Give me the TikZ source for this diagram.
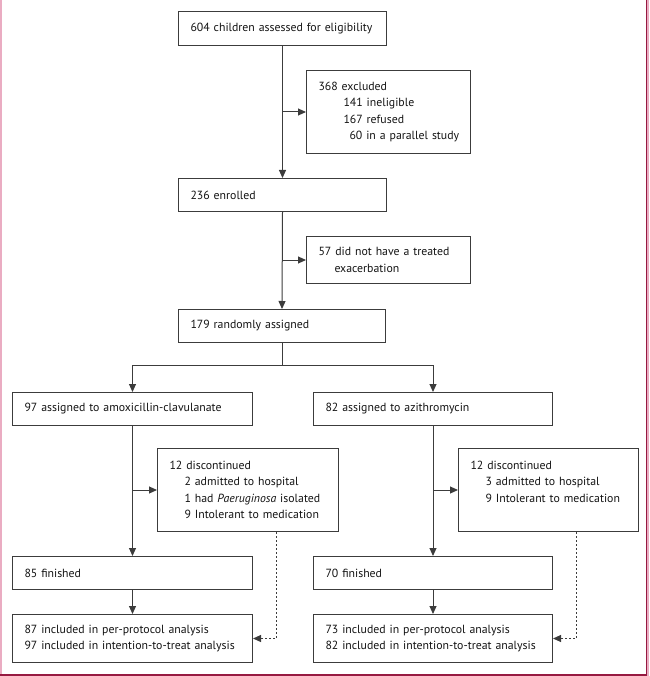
\documentclass[tikz,border=0pt]{standalone}
\usepackage{fontspec}
\setmainfont{PT Sans}
\usetikzlibrary{arrows.meta}
\definecolor{pinkc}{RGB}{234,172,194}
\definecolor{crim}{RGB}{150,25,65}
\definecolor{linec}{RGB}{60,60,60}
\definecolor{txtc}{RGB}{20,20,20}
\begin{document}
\begin{tikzpicture}[x=1pt,y=-1pt,
  box/.style 2 args={draw=linec, line width=1pt, fill=white, anchor=north west,
    minimum width=#1pt, minimum height=#2pt, text width=#1pt-24pt,
    inner xsep=12pt, inner ysep=0pt, align=left, text=txtc,
    font=\fontsize{11.8}{16.5}\selectfont},
  arr/.style={draw=linec, line width=1pt, -{Triangle[length=8pt,width=7pt]}},
  ln/.style={draw=linec, line width=1pt},
  dotarr/.style={draw=linec, line width=1pt, dash pattern=on 2pt off 2pt,
    -{Triangle[length=8pt,width=7pt]}}]
\useasboundingbox (0,0) rectangle (649,676);
% frame
\fill[pinkc] (0,0) rectangle (2,676);
\fill[pinkc] (647,0) rectangle (649,676);
\draw[crim, line width=1.2pt] (646.4,0) -- (646.4,675) -- (0,675);
% boxes
\node[box={208}{34}] (b1) at (178,11) {\mbox{604 children assessed for eligibility}};
\node[box={164}{83}] (b2) at (306,70) {368 excluded\\\hspace*{25pt}141 ineligible\\\hspace*{25pt}167 refused\\\hspace*{31pt}\mbox{60 in a parallel study}};
\node[box={208}{33}] (b3) at (178,178) {236 enrolled};
\node[box={164}{47}] (b4) at (306,236) {\mbox{57 did not have a treated}\\\hspace*{16pt}exacerbation};
\node[box={207}{33}] (b5) at (178,309) {179 randomly assigned};
\node[box={240}{33}] (b6) at (12,392) {\mbox{97 assigned to amoxicillin-clavulanate}};
\node[box={239}{33}] (b7) at (313,392) {82 assigned to azithromycin};
\node[box={181}{83}] (b8) at (157,448) {12 discontinued\\\hspace*{15pt}2 admitted to hospital\\\hspace*{15pt}\mbox{1 had \textit{Paeruginosa} isolated}\\\hspace*{15pt}\mbox{9 Intolerant to medication}};
\node[box={180}{83}] (b9) at (458,448) {12 discontinued\\\hspace*{15pt}3 admitted to hospital\\\hspace*{15pt}\mbox{9 Intolerant to medication}\\\mbox{}};
\node[box={240}{33}] (b10) at (12,556) {85 finished};
\node[box={239}{33}] (b11) at (313,556) {70 finished};
\node[box={240}{48}] (b12) at (12,614) {\mbox{87 included in per-protocol analysis}\\\mbox{97 included in intention-to-treat analysis}};
\node[box={239}{48}] (b13) at (313,614) {\mbox{73 included in per-protocol analysis}\\\mbox{82 included in intention-to-treat analysis}};
% connectors
\draw[arr] (b1.south) -- (b3.north);
\draw[arr] (b1.south |- b2.west) -- (b2.west);
\draw[arr] (b3.south) -- (b5.north);
\draw[arr] (b3.south |- b4.west) -- (b4.west);
\coordinate (sp) at (282,365);
\draw[ln] (b5.south) -- (sp);
\draw[ln] (b6.north |- sp) -- (b7.north |- sp);
\draw[arr] (b6.north |- sp) -- (b6.north);
\draw[arr] (b7.north |- sp) -- (b7.north);
\draw[arr] (b6.south) -- (b10.north);
\draw[arr] (b6.south |- b8.west) -- (b8.west);
\draw[arr] (b7.south) -- (b11.north);
\draw[arr] (b7.south |- b9.west) -- (b9.west);
\draw[arr] (b10.south) -- (b12.north);
\draw[arr] (b11.south) -- (b13.north);
\draw[dotarr] ([xshift=28.5pt]b8.south) |- (b12.east);
\draw[dotarr] ([xshift=28pt]b9.south) |- (b13.east);
\end{tikzpicture}
\end{document}
